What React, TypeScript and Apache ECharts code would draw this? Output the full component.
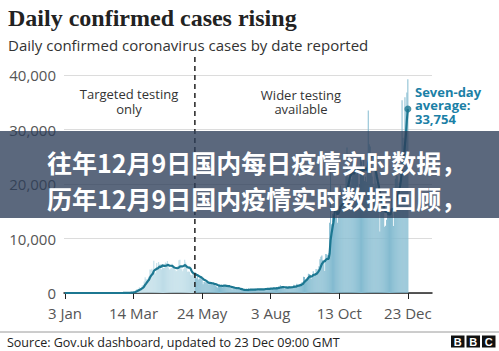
import React, { useEffect, useRef } from "react";
import * as echarts from "echarts";

// Tick positions (day index from 3 Jan 2020) and their labels
const tickIndex = [0, 71, 142, 213, 284, 355];
const tickLabels = ["3 Jan", "14 Mar", "24 May", "3 Aug", "13 Oct", "23 Dec"];
const yTicks = [0, 10000, 20000, 30000, 40000];

// Daily confirmed cases by date reported, 3 Jan – 23 Dec 2020
const casesJan = [0, 0, 0, 0, 0, 0, 0, 0, 0, 0, 0, 0, 0, 0, 0, 0, 0, 0, 0, 0, 0, 0, 0, 0, 0, 0, 0, 0, 2];
const casesFeb = [0, 0, 0, 0, 0, 1, 0, 0, 0, 4, 0, 0, 0, 0, 0, 0, 0, 0, 0, 0, 0, 0, 0, 4, 0, 0, 2, 4, 3];
const casesMar = [12, 4, 11, 34, 29, 48, 43, 67, 48, 52, 83, 134, 117, 208, 342, 407, 676, 643, 714, 1035, 665, 967, 1427, 1452, 2129, 2885, 2546, 2433, 2619, 3009, 4324];
const casesApr = [4244, 4450, 3735, 5903, 3802, 3634, 5491, 4344, 5706, 5233, 5288, 4342, 5252, 4603, 4617, 5599, 5525, 5850, 4676, 4301, 4451, 4583, 5386, 4913, 4463, 4309, 3996, 4076, 4951, 6032];
const casesMay = [6111, 4806, 4339, 3985, 4406, 6111, 5614, 4649, 3896, 3923, 3877, 3403, 3242, 3446, 3560, 3450, 3534, 2684, 3142, 2472, 2615, 2959, 2943, 2409, 1625, 2004, 2013, 1887, 2095, 1936, 1570];
const casesJun = [1653, 1613, 1871, 1805, 1650, 1557, 1326, 1205, 1003, 1266, 1541, 1425, 1514, 1056, 1514, 1279, 1115, 1218, 1346, 1295, 1221, 958, 874, 653, 1118, 1006, 890, 901, 815, 689];
const casesJul = [829, 576, 544, 624, 516, 352, 581, 630, 642, 512, 820, 650, 530, 538, 581, 642, 687, 827, 650, 725, 445, 560, 769, 798, 767, 743, 685, 581, 763, 846, 880];
const casesAug = [771, 744, 938, 670, 892, 950, 871, 758, 1062, 816, 1148, 1009, 1441, 1012, 1077, 1040, 713, 1089, 812, 1182, 1033, 1288, 1041, 853, 1184, 1048, 1522, 1276, 1108, 1715, 1406];
const casesSep = [1295, 1508, 1735, 1940, 1813, 2988, 2948, 2460, 2659, 2919, 3539, 3497, 3330, 2621, 3105, 3991, 3395, 3679, 4422, 3899, 4368, 4926, 6178, 6634, 6874, 6042, 5693, 4044, 7143, 7108];
const casesOct = [6914, 6968, 12872, 22961, 12594, 14542, 14162, 17540, 13864, 15166, 12872, 13972, 17234, 19724, 18980, 15650, 16171, 16982, 18804, 21331, 26688, 21242, 20530, 23012, 19790, 20890, 22885, 24701, 23065, 24405, 21915];
const casesNov = [23254, 18950, 20018, 25177, 24141, 23287, 24957, 20572, 21350, 20412, 22950, 33470, 27301, 26860, 24962, 21363, 20051, 19609, 22915, 20252, 19875, 18662, 15450, 11299, 18213, 17555, 16022, 15871, 12155, 12330];
const casesDec = [13430, 16170, 14879, 16298, 15539, 17272, 14718, 12282, 16578, 20964, 21672, 21502, 18447, 20263, 18450, 25161, 35383, 28507, 27052, 35928, 33364, 36804, 39237];

const dailyCases = [
  ...casesJan, ...casesFeb, ...casesMar, ...casesApr, ...casesMay, ...casesJun,
  ...casesJul, ...casesAug, ...casesSep, ...casesOct, ...casesNov, ...casesDec,
];

// Index between 17 and 18 May, when wider testing became available
const widerTestingAt = 134.5;

// Seven-day rolling average of the daily figures
const sevenDayAvg = dailyCases.map((_, i) => {
  const w = dailyCases.slice(Math.max(0, i - 6), i + 1);
  return w.reduce((a, b) => a + b, 0) / w.length;
});

const SANS = '"Open Sans", "Noto Sans", sans-serif';
const CJK = '"Noto Sans CJK SC", sans-serif';

export default function App() {
  const ref = useRef<HTMLDivElement>(null);

  useEffect(() => {
    if (!ref.current) return;
    const chart = echarts.init(ref.current, undefined, { renderer: "svg" });
    const teal = "#1c7791";

    const option: any = {
      animation: false,
      backgroundColor: "#ffffff",
      grid: { left: 64, right: 67, top: 75, bottom: 58, containLabel: false },
      xAxis: {
        type: "value",
        min: -1,
        max: 380,
        splitLine: { show: false },
        axisLine: { show: true, onZero: false, lineStyle: { color: "#222", width: 1.5 } },
        axisTick: { show: true, customValues: tickIndex, length: 6, lineStyle: { color: "#222", width: 1 } },
        axisLabel: {
          customValues: tickIndex,
          formatter: (v: number) => {
            const k = tickIndex.indexOf(Math.round(v));
            return k >= 0 ? tickLabels[k] : "";
          },
          color: "#555",
          fontSize: 15,
          fontFamily: SANS,
          margin: 12,
        },
      },
      yAxis: {
        type: "value",
        min: yTicks[0],
        max: yTicks[yTicks.length - 1],
        interval: 10000,
        axisLine: { show: false },
        axisTick: { show: false },
        splitLine: { lineStyle: { color: "#dcdcdc", width: 1 } },
        axisLabel: {
          formatter: (v: number) => v.toLocaleString("en-US"),
          color: "#555",
          fontSize: 15,
          fontFamily: SANS,
          margin: 8,
        },
      },
      series: [
        {
          type: "bar",
          barWidth: 0.75,
          data: dailyCases.map((v, i) => ({
            value: [i, v],
            itemStyle: { color: i < widerTestingAt ? "#bddce7" : "#84bbd0" },
          })),
          z: 1,
        },
        {
          type: "line",
          data: sevenDayAvg.map((v, i) => [i, v]),
          showSymbol: false,
          smooth: false,
          lineStyle: { color: teal, width: 2.2 },
          z: 3,
        },
        {
          type: "scatter",
          data: [[dailyCases.length - 1, sevenDayAvg[sevenDayAvg.length - 1]]],
          symbolSize: 7,
          itemStyle: { color: teal },
          z: 4,
        },
      ],
    };
    chart.setOption(option);

    const dashX = chart.convertToPixel({ xAxisIndex: 0 }, widerTestingAt) as number;
    const zeroY = chart.convertToPixel({ yAxisIndex: 0 }, 0) as number;
    const avgLabel = Math.round(sevenDayAvg[sevenDayAvg.length - 1]).toLocaleString("en-US");

    const txt = (x: number, y: number, text: string, extra: any = {}) => ({
      type: "text",
      x,
      y,
      z: extra.z ?? 10,
      style: {
        text,
        fontFamily: SANS,
        fontSize: 13,
        fill: "#333",
        align: "left",
        verticalAlign: "middle",
        ...extra.style,
      },
    });

    chart.setOption({
      graphic: [
        {
          type: "line",
          z: 5,
          shape: { x1: dashX, y1: 57, x2: dashX, y2: zeroY },
          style: { stroke: "#222", lineWidth: 1.5, lineDash: [5, 4] },
        },
        txt(8, 17.5, "Daily confirmed cases rising", {
          style: { fontFamily: '"Liberation Serif", "DejaVu Serif", serif', fontSize: 24, fontWeight: "bold", fill: "#222" },
        }),
        txt(8, 44.5, "Daily confirmed coronavirus cases by date reported", {
          style: { fontSize: 15, fill: "#333" },
        }),
        txt(129, 101.5, "Targeted testing\nonly", { style: { align: "center", lineHeight: 14.5 } }),
        txt(301, 101.5, "Wider testing\navailable", { style: { align: "center", lineHeight: 14 } }),
        txt(415, 105.3, "Seven-day\naverage:\n" + avgLabel, {
          style: { fill: "#1b80a6", fontWeight: "bold", lineHeight: 13.8 },
        }),
        {
          type: "rect",
          z: 50,
          shape: { x: 0, y: 131, width: 499, height: 87 },
          style: { fill: "rgba(45,62,88,0.78)" },
        },
        txt(47, 162, "往年12月9日国内每日疫情实时数据，", {
          z: 60,
          style: { fontFamily: CJK, fontSize: 25, fontWeight: "bold", fill: "#ffffff" },
        }),
        txt(47, 197.5, "历年12月9日国内疫情实时数据回顾，", {
          z: 60,
          style: { fontFamily: CJK, fontSize: 25, fontWeight: "bold", fill: "#ffffff" },
        }),
        {
          type: "line",
          z: 10,
          shape: { x1: 0, y1: 332, x2: 499, y2: 332 },
          style: { stroke: "#9a9a9a", lineWidth: 1 },
        },
        txt(7, 342, "Source: Gov.uk dashboard, updated to 23 Dec 09:00 GMT", {
          style: { fontSize: 12.5, fill: "#222" },
        }),
        ...["B", "B", "C"].flatMap((ch, k) => [
          {
            type: "rect",
            z: 10,
            shape: { x: 451 + k * 15.5, y: 335.5, width: 13.5, height: 12 },
            style: { fill: "#111" },
          },
          txt(451 + k * 15.5 + 6.75, 341.8, ch, {
            style: { align: "center", fontSize: 11, fontWeight: "bold", fill: "#fff", fontFamily: '"Liberation Sans", Arial, sans-serif' },
          }),
        ]),
      ],
    });

    return () => chart.dispose();
  }, []);

  return (
    <div
      ref={ref}
      style={{ position: "absolute", left: 0, top: 0, width: 499, height: 351, background: "#fff" }}
    />
  );
}
